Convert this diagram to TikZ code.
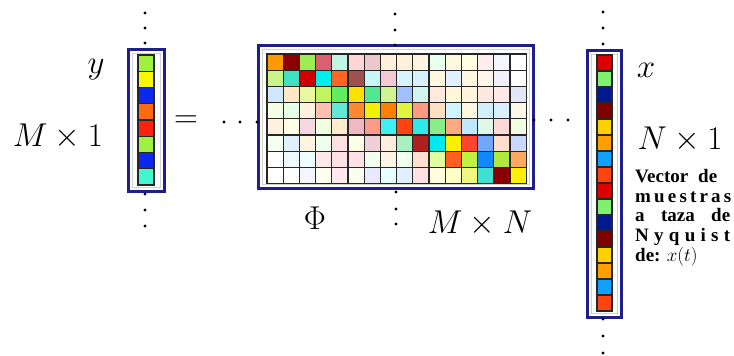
\RequirePackage{fix-cm}
\documentclass[tikz,border=0pt]{standalone}
\usepackage{fontspec}
\newfontfamily\notefont{Liberation Serif}
\definecolor{framenavy}{HTML}{1E1E8C}

\begin{document}
\begin{tikzpicture}[x=1pt, y=-1pt,
    frame/.style={draw=framenavy, line width=3pt, fill=white},
    inframe/.style={draw=gray!35, line width=1pt},
    softshadow/.style={fill=gray!30},
    cellbox/.style={draw=black!85, line width=1.3pt},
    blackdot/.style={fill=black},
    bigmath/.style={font=\fontsize{33}{38}\selectfont, inner sep=0pt}]
    \useasboundingbox (0,0) rectangle (734,356);

    % Frames of y, Phi and x
    \foreach \xa/\ya/\xb/\yb in {128/49/164/191, 258/45/533/188, 587/50/621/317} {
        \fill[softshadow] (\xa+2,\ya+2) rectangle (\xb+2,\yb+2);
        \draw[frame] (\xa,\ya) rectangle (\xb,\yb);
        \draw[inframe] (\xa+4,\ya+4) rectangle (\xb-4,\yb-4);
    }

    % Measurement vector y
    \foreach \hex [count=\i from 0] in {A0F040, F8F800, 0A28F0, FF6A10, FF2010, A0F040, 0A28F0, 40F8D0} {
        \definecolor{cellcol}{HTML}{\hex}
        \draw[cellbox, fill=cellcol] (138,55+16.25*\i) rectangle ++(16,16.25);
    }

    % Sensing matrix Phi
    \foreach \row [count=\j from 0] in {
        {FF9900,8B0000,99EE55,D86070,C0F5E5,FFD5D5,EAC8CC,FFF0DC,FFF0DC,FFF5E0,E8FFF0,FFF8E0,FFFFE5,FFEEEE,F5F5FF,FFFFFF},
        {C8F58A,40E0C0,D00000,00EEEE,FF6622,A05050,C8F5F5,F5C8D5,D8F5FF,D8F0FF,FFF8E0,E0F0FF,FFF5E0,FFF5E8,F0F0FF,FFFFFF},
        {D0E8FF,FFE8C8,E8F8A0,C0F560,60EE60,FFE000,50E890,D0F590,A0C0FF,D0F5F0,FFE8E0,FFF8D8,FFF5DD,FFE8E0,FFE8E8,E0E8F5},
        {F5FFE5,E8FFE8,FFF0E0,FFC0B0,60E8D8,FF8830,F0F000,FF8000,E0F540,FF9980,FFE0C0,D0F5FF,FFF8E0,D0F0FF,D8F0FF,FFF8E8},
        {FFF0E0,FFFFE8,F8D8E0,F0FFE0,FFEBD0,F0B8C0,FF9988,40F0F0,FF4410,30E8E8,88EE88,FFAA80,C0E8FF,E0F8E8,FFD8D8,F0FFE0},
        {F5FFF0,E0F0FF,FFF5E0,F0FFEE,FFE0E0,FFFFE8,F0D0D8,FFEEDD,A8F0C0,B02020,00E8F0,FFF000,FF4430,70A8FF,FFDDCC,C8D8FF},
        {FFFFFF,F0F8FF,EEFFFF,FFE8E8,FFE0E5,FFE0E8,F0FFEE,FFF5E5,F0FFEE,FFE0D0,E0FFA0,FF6020,C0F040,1188FF,B0E840,FFA860},
        {FFFFFF,FFFFFF,F5F5FF,FFFFF0,FFE8F0,F8FFF0,E8E8FF,E8FFFF,E0F0FF,FFE0E0,FFFFE0,FFFFC8,F0F880,40E0D0,880000,FFF000}} {
        \foreach \hex [count=\i from 0] in \row {
            \definecolor{cellcol}{HTML}{\hex}
            \draw[cellbox, fill=cellcol] (267+16.2*\i,54+16.2*\j) rectangle ++(16.2,16.2);
        }
    }

    % Nyquist vector x
    \foreach \hex [count=\i from 0] in {DD0000, 80F070, 001890, 800000, FFD000, FFA000, 10A0FF, FF4410,
                                        DD0000, 80F070, 001890, 800000, FFD000, FFA000, 10A0FF, FF4410} {
        \definecolor{cellcol}{HTML}{\hex}
        \draw[cellbox, fill=cellcol] (597,55+16*\i) rectangle ++(15,16);
    }

    % Continuation dots
    \foreach \px/\py in {145/13, 145/28, 145/43, 145/194, 145/210, 145/226,
                         395/14, 395/30, 395/45, 396/192, 396/209, 396/224,
                         224/122, 240/122, 257/122, 534/120, 551/120, 568/120,
                         603/12, 603/28, 603/44, 603/319, 603/336, 603/353}
        \fill[blackdot] (\px,\py) circle (1.6);

    % Labels
    \node[bigmath] (ylab) at (96,70) {$y$};
    \node[bigmath] (ydim) at (58,137) {$M\times 1$};
    \node[bigmath] (eqsign) at (186,122) {$=$};
    \node[bigmath] (philab) at (315,218) {$\Phi$};
    \node[bigmath] (phidim) at (480,224) {$M\times N$};
    \node[bigmath] (xlab) at (646,70) {$x$};
    \node[bigmath] (xdim) at (680,140) {$N\times 1$};
    \node[anchor=north west, align=left, inner sep=0pt,
          font=\notefont\bfseries\fontsize{19}{19.8}\selectfont] (xnote) at (635,169)
        {\makebox[82pt][s]{Vector de}\\
         \makebox[95pt][s]{m u e s t r a s}\\
         \makebox[95pt][s]{a taza de}\\
         \makebox[95pt][s]{N y q u i s t}\\
         de: $x(t)$};
\end{tikzpicture}
\end{document}
